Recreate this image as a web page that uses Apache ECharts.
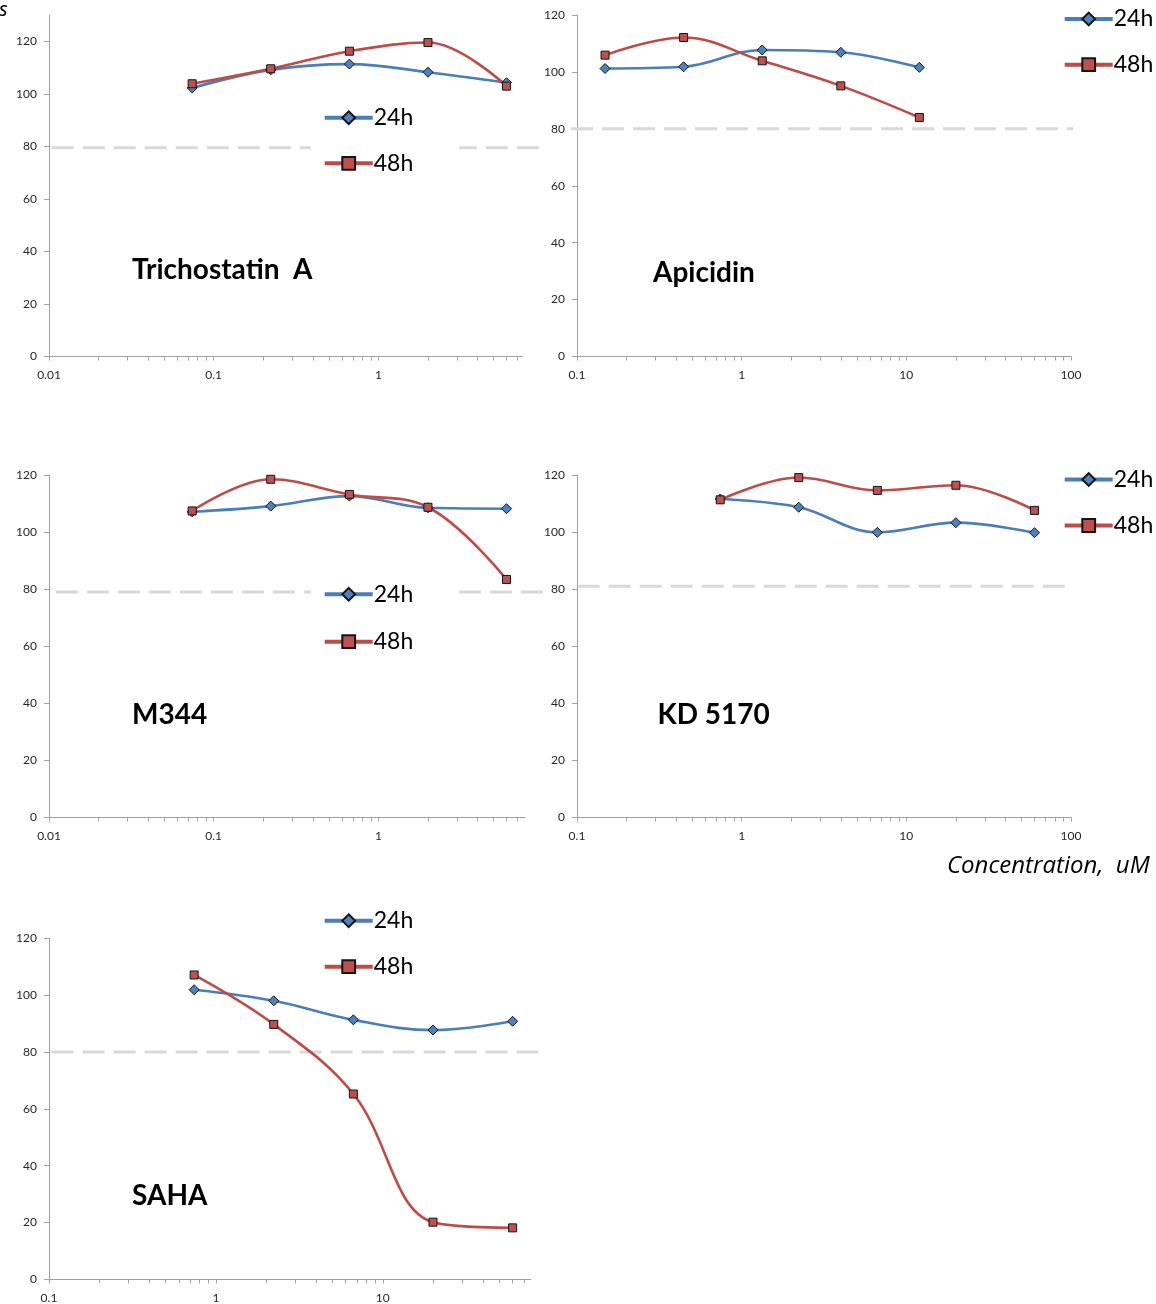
<!DOCTYPE html>
<html>
<head>
<meta charset="utf-8">
<script src="https://cdn.jsdelivr.net/npm/echarts@6/dist/echarts.min.js"></script>
<style>
  html, body { margin: 0; padding: 0; background: #fff; }
  #chart { width: 1156px; height: 1304px; }
</style>
</head>
<body>
<div id="chart"></div>
<script>
// ---- data: cell viability (% of control) vs concentration (uM) ----
const seriesNames = ['24h', '48h'];
const panelNames = ['Trichostatin  A', 'Apicidin', 'M344', 'KD 5170', 'SAHA'];
const yTicks = [0, 20, 40, 60, 80, 100, 120];

const concTSA = [0.074, 0.222, 0.667, 2, 6];
const tsa24h = [102.3, 109.2, 111.4, 108.3, 104.3];
const tsa48h = [103.9, 109.6, 116.3, 119.6, 103.0];

const concApicidin = [0.148, 0.444, 1.333, 4, 12];
const apicidin24h = [101.2, 101.8, 107.7, 106.9, 101.6];
const apicidin48h = [105.9, 112.1, 103.9, 95.1, 84.0];

const concM344 = [0.074, 0.222, 0.667, 2, 6];
const m344_24h = [107.1, 109.1, 112.6, 108.5, 108.2];
const m344_48h = [107.4, 118.5, 113.2, 108.7, 83.4];

const concKD5170 = [0.741, 2.222, 6.667, 20, 60];
const kd5170_24h = [111.6, 108.7, 99.9, 103.3, 99.8];
const kd5170_48h = [111.3, 119.1, 114.6, 116.4, 107.6];

const concSAHA = [0.741, 2.222, 6.667, 20, 60];
const saha24h = [101.9, 98.0, 91.3, 87.7, 90.8];
const saha48h = [107.1, 89.7, 65.2, 20.1, 18.1];

// viability threshold drawn as a dashed reference line in each panel
const cutoffLevels = [79.5, 80, 79, 81, 80];

const panelData = [
  [concTSA, tsa24h, tsa48h],
  [concApicidin, apicidin24h, apicidin48h],
  [concM344, m344_24h, m344_48h],
  [concKD5170, kd5170_24h, kd5170_48h],
  [concSAHA, saha24h, saha48h]
];

// ---- layout of the five panels ----
// span: concentration range covered by the dashed threshold line
const layout = [
  { grid: { left: 49, top: 15.25, width: 473.3, height: 341.25 }, x: [0.01, 7.48], yMax: 130, span: [0.0104, 10],
    legend: { left: 310.7, top: 95.7, gap: 21.6, pad: [10, 46, 10, 12], bg: '#fff' }, label: [132, 270] },
  { grid: { left: 577, top: 15, width: 494, height: 341.5 }, x: [0.1, 100], yMax: 120, span: [0.092, 103],
    legend: { left: 1062.7, top: 7, gap: 21.7, pad: 0, bg: 'transparent' }, label: [653, 273] },
  { grid: { left: 49, top: 475, width: 476, height: 342.5 }, x: [0.01, 7.77], yMax: 120, span: [0.011, 10.6],
    legend: { left: 310.7, top: 572.3, gap: 23.4, pad: [10, 46, 10, 12], bg: '#fff' }, label: [132, 715] },
  { grid: { left: 577, top: 475, width: 494, height: 342.5 }, x: [0.1, 100], yMax: 120, span: [0.101, 93],
    legend: { left: 1062.7, top: 467.5, gap: 22, pad: 0, bg: 'transparent' }, label: [657.5, 715] },
  { grid: { left: 49, top: 938.3, width: 481.7, height: 341 }, x: [0.1, 77], yMax: 120, span: [0.1036, 85.5],
    legend: { left: 322.7, top: 908.7, gap: 22, pad: 0, bg: 'transparent' }, label: [132, 1196] }
];

const FONT = 'Lato, "Open Sans", "Noto Sans", sans-serif';
const AXIS_COLOR = '#a0a0a0';

const seriesStyle = {
  '24h': { symbol: 'diamond', size: 10, line: '#4a7ebb', fill: '#4f81bd' },
  '48h': { symbol: 'rect', size: 8, line: '#be4b48', fill: '#c0504d' }
};

// tick positions of a base-10 log axis: 1..9 in every decade
function logTicks(min, max, majorOnly) {
  const out = [];
  const d0 = Math.floor(Math.log10(min) + 1e-9), d1 = Math.ceil(Math.log10(max));
  for (let d = d0; d <= d1; d++) {
    for (let k = 1; k <= 9; k++) {
      if (majorOnly && k > 1) break;
      const v = +(k * Math.pow(10, d)).toPrecision(6);
      if (v >= min * 0.9999 && v <= max * 1.0001) out.push(v);
    }
  }
  return out;
}

const grids = [], xAxes = [], yAxes = [], series = [], legends = [], graphics = [];
const n = layout.length;

layout.forEach((L, i) => {
  grids.push(Object.assign({ outerBoundsMode: 'none', containLabel: false }, L.grid));

  xAxes.push({
    type: 'log', logBase: 10, gridIndex: i, min: L.x[0], max: L.x[1],
    axisLine: { show: true, lineStyle: { color: AXIS_COLOR, width: 1 } },
    axisTick: { show: true, inside: false, length: 4, customValues: logTicks(L.x[0], L.x[1], false),
                lineStyle: { color: AXIS_COLOR } },
    axisLabel: { customValues: logTicks(L.x[0], L.x[1], true), margin: 13,
                 fontFamily: FONT, fontSize: 12, color: '#262626',
                 formatter: v => String(+(+v).toPrecision(6)) },
    minorTick: { show: false }, splitLine: { show: false }
  });

  yAxes.push({
    type: 'value', gridIndex: i, min: 0, max: L.yMax, interval: 20,
    axisLine: { show: true, lineStyle: { color: AXIS_COLOR, width: 1 } },
    axisTick: { show: true, inside: false, length: 5, customValues: yTicks, lineStyle: { color: AXIS_COLOR } },
    axisLabel: { customValues: yTicks, margin: 12, fontFamily: FONT, fontSize: 12, color: '#262626' },
    splitLine: { show: false }
  });

  const [conc, v24, v48] = panelData[i];
  [[seriesNames[0], v24], [seriesNames[1], v48]].forEach(([name, vals]) => {
    const s = seriesStyle[name];
    series.push({
      type: 'line', name, xAxisIndex: i, yAxisIndex: i,
      data: conc.map((c, j) => [c, vals[j]]),
      smooth: 0.38, symbol: s.symbol, symbolSize: s.size, showSymbol: true,
      lineStyle: { color: s.line, width: 2.6 },
      itemStyle: { color: s.fill, borderColor: '#151515', borderWidth: 1 },
      z: 3, animation: false
    });
  });

  legends.push({
    orient: 'vertical', left: L.legend.left, top: L.legend.top, itemGap: L.legend.gap,
    padding: L.legend.pad, backgroundColor: L.legend.bg, data: seriesNames,
    itemWidth: 48, itemHeight: 16, selectedMode: false, z: 10,
    lineStyle: { width: 4 },
    textStyle: { fontFamily: FONT, fontSize: 23, lineHeight: 24, color: '#000', padding: [0, 0, 0, -4] }
  });

  graphics.push({
    type: 'text', x: L.label[0], y: L.label[1], z: 20,
    style: { text: panelNames[i], font: 'bold 28px ' + FONT, fill: '#000', verticalAlign: 'middle' }
  });
});

// The dashed threshold reaches a little past the plotted axis range, so it
// lives on its own hidden log axis laid over each panel, sharing the y scale.
layout.forEach((L, i) => {
  const g = L.grid;
  const pxPerDecade = g.width / Math.log10(L.x[1] / L.x[0]);
  const left = g.left + pxPerDecade * Math.log10(L.span[0] / L.x[0]);
  const width = pxPerDecade * Math.log10(L.span[1] / L.span[0]);
  grids.push({ outerBoundsMode: 'none', containLabel: false, left, width, top: g.top, height: g.height });
  xAxes.push({ type: 'log', gridIndex: n + i, min: L.span[0], max: L.span[1], show: false });
  yAxes.push({ type: 'value', gridIndex: n + i, min: 0, max: L.yMax, show: false });
  series.push({
    type: 'line', name: 'threshold', xAxisIndex: n + i, yAxisIndex: n + i,
    data: [[L.span[0], cutoffLevels[i]], [L.span[1], cutoffLevels[i]]],
    symbol: 'none', silent: true, z: 1, animation: false,
    lineStyle: { color: '#d9d9d9', width: 3, type: [22, 9] }
  });
});

graphics.push({
  type: 'text', x: -1, y: 10, z: 20,
  style: { text: 's', font: 'italic 20px "Noto Sans", "Open Sans", sans-serif', fill: '#000', verticalAlign: 'middle' }
});
graphics.push({
  type: 'text', x: 947, y: 866, z: 20,
  style: { text: 'Concentration,  uM', font: 'italic 24px "Open Sans", "Noto Sans", sans-serif', fill: '#000', verticalAlign: 'middle' }
});

const chart = echarts.init(document.getElementById('chart'), null, { renderer: 'canvas' });
chart.setOption({
  backgroundColor: '#fff',
  animation: false,
  grid: grids,
  xAxis: xAxes,
  yAxis: yAxes,
  legend: legends,
  series: series,
  graphic: graphics
});
</script>
</body>
</html>
